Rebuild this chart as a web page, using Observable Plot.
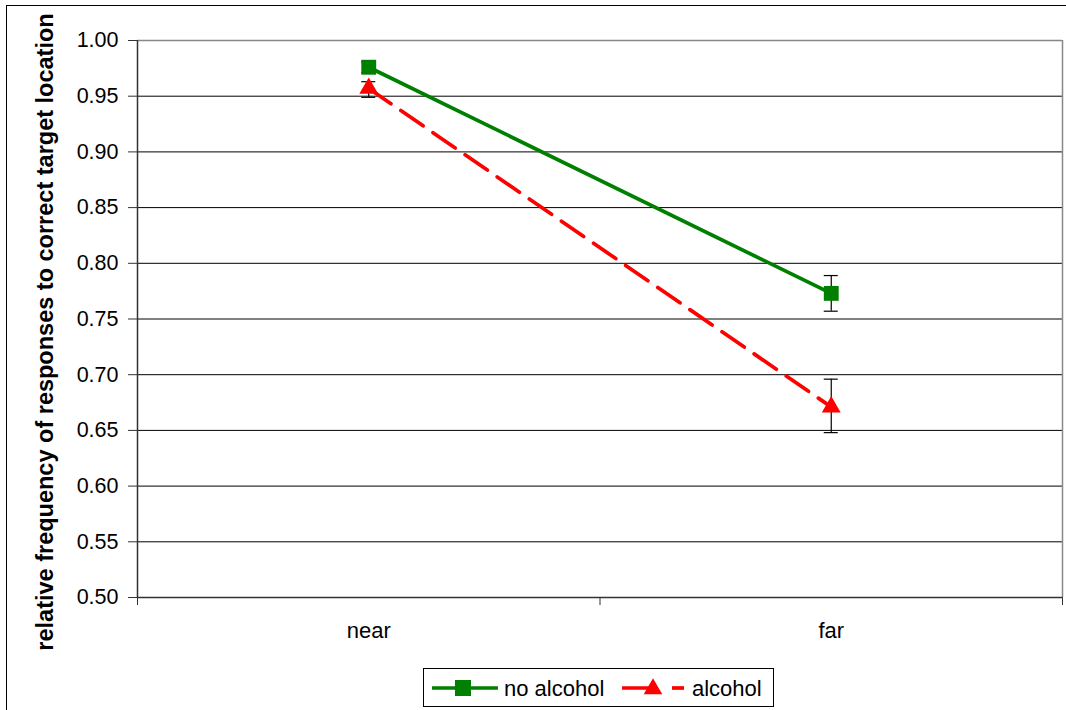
<!DOCTYPE html>
<html>
<head>
<meta charset="utf-8">
<script src="https://cdn.jsdelivr.net/npm/d3@7"></script>
<script src="https://cdn.jsdelivr.net/npm/@observablehq/plot@0.6"></script>
<style>
  html, body { margin: 0; padding: 0; background: #fff; }
  body { width: 1066px; height: 710px; overflow: hidden; position: relative; font-family: "Liberation Sans", Arial, sans-serif; }
  #frame { position: absolute; left: 6px; top: 5px; width: 1080px; height: 730px; border: 1.5px solid #000; box-sizing: border-box; pointer-events: none; }
  #chart { position: absolute; left: 0; top: 0; }
  #legend { position: absolute; left: 423px; top: 668px; width: 351px; height: 39px; border: 1px solid #000; box-sizing: border-box; background: #fff; }
</style>
</head>
<body>
<div id="chart"></div>
<div id="frame"></div>
<div id="legend"></div>
<script>
const categories = ["near", "far"];
const seriesNames = ["no alcohol", "alcohol"];
const noAlcohol = [0.976, 0.773];
const noAlcoholLow = [0.971, 0.757];
const noAlcoholHigh = [0.981, 0.789];
const alcohol = [0.957, 0.671];
const alcoholLow = [0.949, 0.648];
const alcoholHigh = [0.963, 0.696];
const yTicks = [0.50, 0.55, 0.60, 0.65, 0.70, 0.75, 0.80, 0.85, 0.90, 0.95, 1.00];
const yLabel = "relative frequency of responses to correct target location";

const colors = {"no alcohol": "#008000", "alcohol": "#ff0000"};
const rows = [];
categories.forEach((c, i) => {
  rows.push({series: "no alcohol", cat: c, xi: i + 0.5, y: noAlcohol[i], lo: noAlcoholLow[i], hi: noAlcoholHigh[i]});
  rows.push({series: "alcohol", cat: c, xi: i + 0.5, y: alcohol[i], lo: alcoholLow[i], hi: alcoholHigh[i]});
});
const green = rows.filter(d => d.series === "no alcohol");
const red = rows.filter(d => d.series === "alcohol");

const font = "Liberation Sans, Arial, sans-serif";
const chart = Plot.plot({
  width: 1066,
  height: 662,
  marginTop: 40,
  marginBottom: 65,
  marginLeft: 137,
  marginRight: 4,
  style: {fontFamily: font, fontSize: "21.5px", color: "#000", background: "transparent", overflow: "visible"},
  x: {type: "linear", domain: [0, categories.length]},
  y: {domain: [0.5, 1.0]},
  marks: [
    Plot.gridY(yTicks, {stroke: "#000", strokeOpacity: 1, strokeWidth: 1}),
    Plot.ruleY([1.0], {stroke: "#888", strokeWidth: 1.5}),
    Plot.ruleX([categories.length], {stroke: "#888", strokeWidth: 1.5}),
    Plot.ruleX([0], {stroke: "#333", strokeWidth: 1.5}),
    Plot.ruleY([0.5], {stroke: "#333", strokeWidth: 1.5}),
    Plot.axisY({ticks: yTicks, tickFormat: d3.format(".2f"), tickSize: 9, tickPadding: 10, label: null, stroke: "#333", fontSize: 21.5}),
    Plot.axisX({ticks: d3.range(categories.length + 1), tickFormat: () => "", tickSize: 8, label: null, stroke: "#333"}),
    Plot.axisX({ticks: categories.map((c, i) => i + 0.5), tickFormat: d => categories[Math.round(d - 0.5)], tickSize: 0, tickPadding: 25, label: null, fontSize: 22}),
    Plot.text([yLabel], {frameAnchor: "left", dx: -92, dy: 13, rotate: -90, textAnchor: "middle", fontWeight: "bold", fontSize: 23.5, fill: "#000"}),
    // error bars
    Plot.ruleX(rows, {x: "xi", y1: "lo", y2: "hi", stroke: "#000", strokeWidth: 1.2}),
    Plot.ruleY(rows, {x1: "xi", x2: "xi", y: "lo", insetLeft: -7, insetRight: -7, stroke: "#000", strokeWidth: 1.2}),
    Plot.ruleY(rows, {x1: "xi", x2: "xi", y: "hi", insetLeft: -7, insetRight: -7, stroke: "#000", strokeWidth: 1.2}),
    // lines
    Plot.line(green, {x: "xi", y: "y", stroke: colors["no alcohol"], strokeWidth: 3.7}),
    Plot.line(red, {x: "xi", y: "y", stroke: colors["alcohol"], strokeWidth: 3.7, strokeDasharray: "27,12"}),
    // markers
    Plot.dot(green, {x: "xi", y: "y", symbol: "square", r: 8.4, fill: colors["no alcohol"], stroke: "none"}),
    Plot.dot(red, {x: "xi", y: "y", symbol: "triangle", r: 7, fill: colors["alcohol"], stroke: "none"})
  ]
});
document.getElementById("chart").appendChild(chart);

// legend
const leg = d3.select("#legend").append("svg").attr("width", 349).attr("height", 37)
  .style("font-family", font).style("font-size", "22px");
const g1 = leg.append("g");
g1.append("line").attr("x1", 8).attr("x2", 74).attr("y1", 19).attr("y2", 19).attr("stroke", colors["no alcohol"]).attr("stroke-width", 3.7);
g1.append("rect").attr("x", 31).attr("y", 11).attr("width", 16).attr("height", 16).attr("fill", colors["no alcohol"]);
g1.append("text").attr("x", 80).attr("y", 27).text(seriesNames[0]);
const g2 = leg.append("g");
g2.append("line").attr("x1", 198).attr("x2", 232).attr("y1", 19).attr("y2", 19).attr("stroke", colors["alcohol"]).attr("stroke-width", 3.7);
g2.append("line").attr("x1", 248).attr("x2", 260).attr("y1", 19).attr("y2", 19).attr("stroke", colors["alcohol"]).attr("stroke-width", 3.7);
g2.append("path").attr("d", d3.symbol(d3.symbolTriangle, 150)()).attr("transform", "translate(229,20)").attr("fill", colors["alcohol"]);
g2.append("text").attr("x", 268).attr("y", 27).text(seriesNames[1]);
</script>
</body>
</html>
